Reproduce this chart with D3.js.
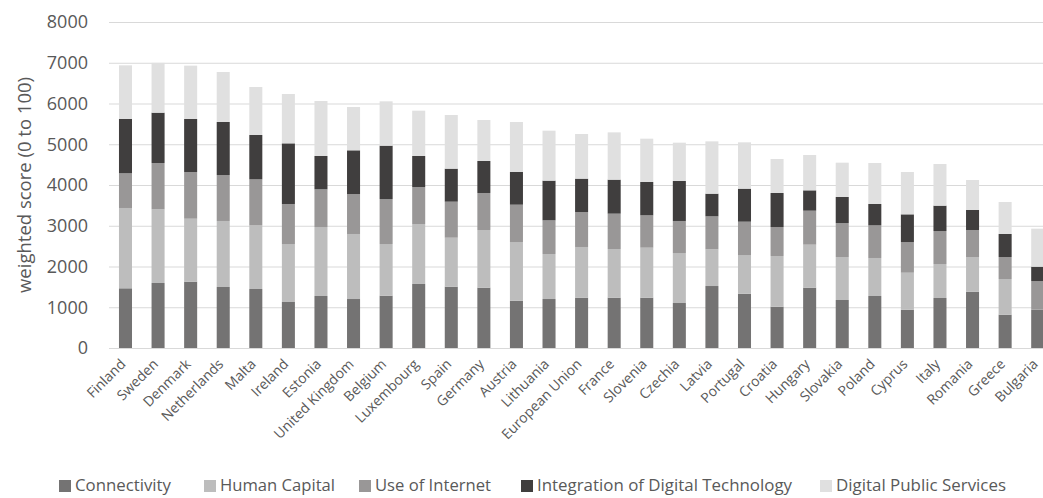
<!DOCTYPE html>
<html><head><meta charset="utf-8">
<script src="https://cdn.jsdelivr.net/npm/d3@7"></script>
<style>body{margin:0;background:#fff}svg{display:block;font-family:"Open Sans",sans-serif}</style>
</head><body><svg id="c" width="1043" height="498"></svg>
<script>
const countries = ["Finland","Sweden","Denmark","Netherlands","Malta","Ireland","Estonia","United Kingdom","Belgium","Luxembourg","Spain","Germany","Austria","Lithuania","European Union","France","Slovenia","Czechia","Latvia","Portugal","Croatia","Hungary","Slovakia","Poland","Cyprus","Italy","Romania","Greece","Bulgaria"];
const seriesNames = ["Connectivity","Human Capital","Use of Internet","Integration of Digital Technology","Digital Public Services"];
const connectivity = [1465,1595,1628,1497,1448,1129,1276,1202,1284,1571,1505,1481,1161,1202,1235,1235,1235,1104,1521,1333,1014,1481,1178,1276,940,1227,1382,818,940];
const humanCapital = [1971,1808,1545,1620,1562,1423,1693,1596,1268,1472,1202,1415,1440,1105,1244,1194,1227,1227,900,949,1244,1055,1055,933,908,834,851,875,0];
const useOfInternet = [851,1137,1146,1128,1129,982,925,981,1104,908,884,908,916,826,858,868,794,786,810,818,711,834,834,801,753,810,663,540,704];
const integration = [1333,1235,1301,1301,1088,1488,818,1072,1309,761,810,785,802,974,819,834,818,981,556,810,835,499,639,524,679,622,491,565,351];
const publicServices = [1317,1222,1309,1227,1178,1211,1349,1063,1088,1112,1317,1006,1227,1226,1096,1161,1063,941,1284,1137,834,867,842,1006,1039,1022,736,785,933];
const yTicks = [0,1000,2000,3000,4000,5000,6000,7000,8000];
const yTitle = "weighted score (0 to 100)";

const colors = ["#747373","#bdbdbd","#999797","#403e3e","#e0e0e0"];
const svg = d3.select("#c");
const x = d3.scaleBand().domain(countries).range([109.2,1054]).paddingInner(0.6).paddingOuter(0.3);
const y = d3.scaleLinear().domain([0,8000]).range([348,22]);

const rows = countries.map((c,i)=>({country:c,
  "Connectivity":connectivity[i],"Human Capital":humanCapital[i],"Use of Internet":useOfInternet[i],
  "Integration of Digital Technology":integration[i],"Digital Public Services":publicServices[i]}));
const stacked = d3.stack().keys(seriesNames)(rows);

// gridlines
svg.append("g").selectAll("line").data(yTicks).join("line")
  .attr("x1",109).attr("x2",1043).attr("y1",d=>y(d)+0.5).attr("y2",d=>y(d)+0.5)
  .attr("stroke","#d9d9d9").attr("stroke-width",1.2);

// y tick labels
svg.append("g").selectAll("text").data(yTicks).join("text")
  .attr("x",88).attr("y",d=>y(d)).attr("dy","0.36em").attr("text-anchor","end")
  .attr("fill","#595959").style("font-size","18px").text(d=>d);

svg.append("text").attr("transform","translate(31,185) rotate(-90)")
  .attr("text-anchor","middle").attr("fill","#595959").style("font-size","18.5px").text(yTitle);

// bars
svg.append("g").selectAll("g").data(stacked).join("g").attr("fill",(d,i)=>colors[i])
  .selectAll("rect").data(d=>d).join("rect")
  .attr("x",d=>x(d.data.country)).attr("width",x.bandwidth())
  .attr("y",d=>y(d[1])).attr("height",d=>Math.max(0,y(d[0])-y(d[1])));

// x labels
svg.append("g").selectAll("text").data(countries).join("text")
  .attr("transform",d=>`translate(${x(d)+x.bandwidth()/2+1},${365}) rotate(-45)`)
  .attr("text-anchor","end").attr("fill","#595959").style("font-size","14px").text(d=>d);

// legend
const legX = [59,204,359,521,820];
const legW = [96,115,116,255,170];
const lg = svg.append("g").selectAll("g").data(seriesNames).join("g")
  .attr("transform",(d,i)=>`translate(${legX[i]},486)`);
lg.append("rect").attr("x",0).attr("y",-6).attr("width",12).attr("height",12).attr("fill",(d,i)=>colors[i]);
lg.append("text").attr("x",16).attr("dy","0.35em").attr("fill","#595959").style("font-size","15.5px")
  .attr("textLength",(d,i)=>legW[i]).attr("lengthAdjust","spacingAndGlyphs").text(d=>d);
</script></body></html>
